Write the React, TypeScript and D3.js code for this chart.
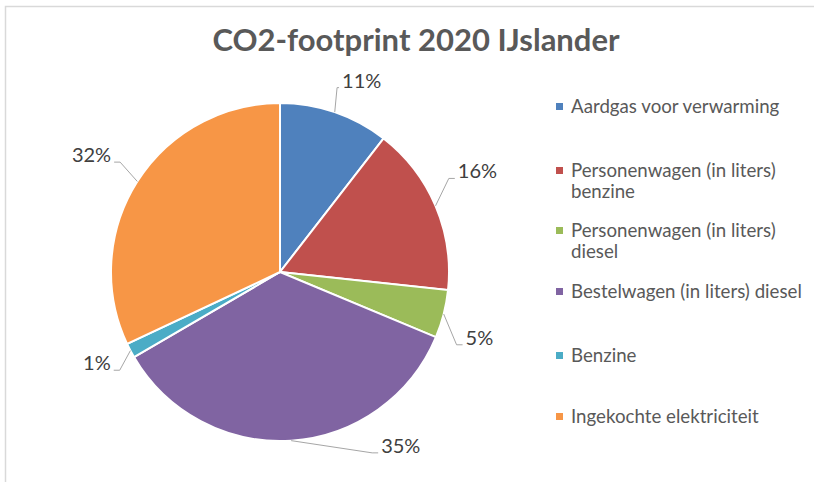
import React from "react";
import * as d3 from "d3";

// slice data (share of total)
const categories = [
  "Aardgas voor verwarming",
  "Personenwagen (in liters) benzine",
  "Personenwagen (in liters) diesel",
  "Bestelwagen (in liters) diesel",
  "Benzine",
  "Ingekochte elektriciteit",
];
const values = [10.5, 16.2, 4.6, 35.3, 1.4, 32.0];
const percentLabels = ["11%", "16%", "5%", "35%", "1%", "32%"];

// legend text, wrapped like the original
const legendLines = [
  ["Aardgas voor verwarming"],
  ["Personenwagen (in liters)", "benzine"],
  ["Personenwagen (in liters)", "diesel"],
  ["Bestelwagen (in liters) diesel"],
  ["Benzine"],
  ["Ingekochte elektriciteit"],
];

const colors = ["#4f81bd", "#c0504d", "#9bbb59", "#8064a2", "#4bacc6", "#f79646"];

// leader elbow placement: angle (deg, clockwise from top) and radius
const labelAngles = [17.2, 61, 112.4, 153, 238.5, 304.5];
const labelRadii = [193, 193, 191, 203, 188, 194];
const legendBaselines = [113, 177, 237, 298, 362, 423];

const W = 814;
const H = 482;
const cx = 280;
const cy = 272;
const R = 169;
const FONT = "Lato, 'Open Sans', sans-serif";

export default function App() {
  const pie = d3
    .pie<number>()
    .sort(null)
    .value((d) => d);
  const arcs = pie(values);
  const arc = d3.arc<d3.PieArcDatum<number>>().innerRadius(0).outerRadius(R);

  const polar = (angle: number, r: number) => [
    cx + r * Math.sin(angle),
    cy - r * Math.cos(angle),
  ];

  return (
    <div style={{ position: "absolute", left: 0, top: 0 }}>
      <svg width={W} height={H} style={{ display: "block", background: "#fff" }}>
        {/* chart frame (cropped) */}
        <path d={`M5.5,${H} V6.5 H${W}`} fill="none" stroke="#d9d9d9" strokeWidth={1.5} />

        <text
          x={416}
          y={51}
          textAnchor="middle"
          fontFamily={FONT}
          fontWeight="bold"
          fontSize={31}
          fill="#595959"
        >
          CO2-footprint 2020 IJslander
        </text>

        <g transform={`translate(${cx},${cy})`}>
          {arcs.map((a, i) => (
            <path key={i} d={arc(a) || ""} fill={colors[i]} stroke="#fff" strokeWidth={2} />
          ))}
        </g>

        {arcs.map((a, i) => {
          const mid = (a.startAngle + a.endAngle) / 2;
          const [sx, sy] = polar(mid, R);
          const [ex, ey] = polar((labelAngles[i] * Math.PI) / 180, labelRadii[i]);
          const right = ex > cx;
          const tail = i === 0 ? 2 : 6;
          const tx = right ? ex + tail : ex - tail;
          return (
            <g key={i}>
              <polyline
                points={`${sx},${sy} ${ex},${ey} ${tx},${ey}`}
                fill="none"
                stroke="#a6a6a6"
                strokeWidth={1}
              />
              <text
                x={right ? tx + 3 : tx - 3}
                y={ey}
                textAnchor={right ? "start" : "end"}
                fontFamily={FONT}
                fontSize={20}
                fill="#404040"
              >
                {percentLabels[i]}
              </text>
            </g>
          );
        })}

        {/* legend */}
        {categories.map((c, i) => (
          <g key={c}>
            <rect
              x={556}
              y={legendBaselines[i] - 10}
              width={7}
              height={7}
              fill={colors[i]}
            />
            <text fontFamily={FONT} fontSize={18.7} fill="#595959">
              {legendLines[i].map((line, j) => (
                <tspan key={j} x={571} y={legendBaselines[i] + j * 21}>
                  {line}
                </tspan>
              ))}
            </text>
          </g>
        ))}
      </svg>
    </div>
  );
}
